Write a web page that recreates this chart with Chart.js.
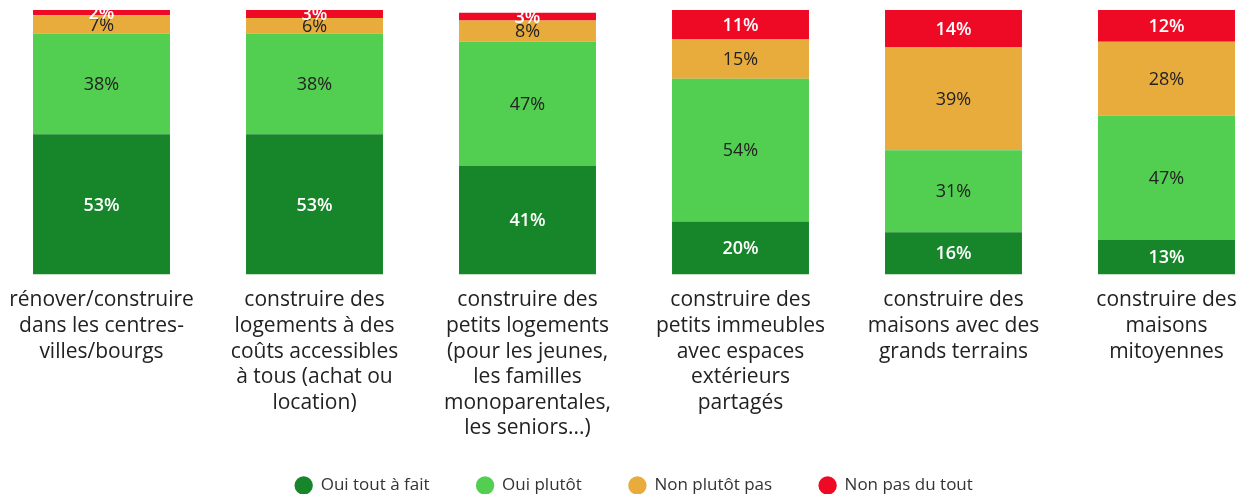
<!DOCTYPE html>
<html>
<head>
<meta charset="utf-8">
<script src="https://cdn.jsdelivr.net/npm/chart.js@4.4.1/dist/chart.umd.min.js"></script>
<style>
  html, body { margin: 0; padding: 0; background: #fff; overflow: hidden; width: 1251px; height: 494px; }
  #wrap { position: absolute; left: -5px; top: 0; width: 1278px; height: 504px; }
</style>
</head>
<body>
<div id="wrap"><canvas id="c"></canvas></div>
<script>
const categories = [
  ["rénover/construire", "dans les centres-", "villes/bourgs"],
  ["construire des", "logements à des", "coûts accessibles", "à tous (achat ou", "location)"],
  ["construire des", "petits logements", "(pour les jeunes,", "les familles", "monoparentales,", "les seniors...)"],
  ["construire des", "petits immeubles", "avec espaces", "extérieurs", "partagés"],
  ["construire des", "maisons avec des", "grands terrains"],
  ["construire des", "maisons", "mitoyennes"]
];
const seriesNames = ["Oui tout à fait", "Oui plutôt", "Non plutôt pas", "Non pas du tout"];
const ouiToutAFait = [53, 53, 41, 20, 16, 13];
const ouiPlutot    = [38, 38, 47, 54, 31, 47];
const nonPlutotPas = [7, 6, 8, 15, 39, 28];
const nonPasDuTout = [2, 3, 3, 11, 14, 12];

const colors = ["#17862A", "#52CE51", "#E8AC3D", "#EE0A24"];
const labelColors = ["#ffffff", "#222222", "#222222", "#ffffff"];
const labelWeights = ["600", "400", "400", "600"];

const valueLabels = {
  id: "valueLabels",
  afterDatasetsDraw(chart) {
    const ctx = chart.ctx;
    ctx.save();
    ctx.textAlign = "center";
    ctx.textBaseline = "middle";
    chart.data.datasets.forEach((ds, di) => {
      const meta = chart.getDatasetMeta(di);
      ctx.font = labelWeights[di] + " 18px 'Open Sans'";
      ctx.fillStyle = labelColors[di];
      meta.data.forEach((el, i) => {
        const y = (el.y + el.base) / 2;
        ctx.fillText(ds.data[i] + "%", el.x, y + 1);
      });
    });
    ctx.restore();
  }
};

new Chart(document.getElementById("c"), {
  type: "bar",
  data: {
    labels: categories,
    datasets: [ouiToutAFait, ouiPlutot, nonPlutotPas, nonPasDuTout].map((d, i) => ({
      label: seriesNames[i],
      data: d,
      backgroundColor: colors[i],
      borderWidth: 0,
      categoryPercentage: 1,
      barPercentage: 0.643
    }))
  },
  options: {
    responsive: true,
    maintainAspectRatio: false,
    animation: false,
    layout: { padding: { top: 10, left: 0, right: 0, bottom: 0 } },
    scales: {
      x: {
        stacked: true,
        grid: { display: false, drawTicks: false },
        border: { display: false },
        ticks: {
          color: "#222",
          font: { family: "'Open Sans'", size: 21, lineHeight: 1.22 },
          padding: 13,
          maxRotation: 0,
          autoSkip: false
        },
        afterFit(scale) {
          scale.height = 155.5;
          scale._computeLabelArea = function () { return undefined; };
        }
      },
      y: {
        stacked: true,
        display: false,
        min: 0,
        max: 100
      }
    },
    plugins: {
      legend: {
        position: "bottom",
        labels: {
          usePointStyle: true,
          pointStyle: "circle",
          boxHeight: 13,
          color: "#333",
          font: { family: "'Open Sans'", size: 17 },
          padding: 47
        }
      },
      tooltip: { enabled: false }
    }
  },
  plugins: [valueLabels]
});
</script>
</body>
</html>
